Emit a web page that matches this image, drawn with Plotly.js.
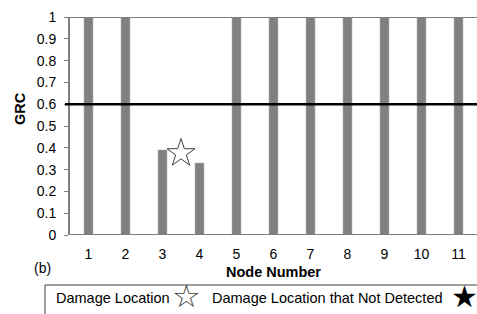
<!DOCTYPE html>
<html><head><meta charset="utf-8">
<script src="https://cdn.plot.ly/plotly-3.0.1.min.js"></script>
<style>html,body{margin:0;padding:0;background:#fff;}</style>
</head><body><div id="chart" style="width:477px;height:314px;"></div>
<script>
const nodes = [1,2,3,4,5,6,7,8,9,10,11];
const grc = [1,1,0.39,0.33,1,1,1,1,1,1,1];
const threshold = 0.6;
const damageX = [3.5];
const damageY = [0.375];
const tickLabels = ['0','0.1','0.2','0.3','0.4','0.5','0.6','0.7','0.8','0.9','1'];
const tickVals = [0,0.1,0.2,0.3,0.4,0.5,0.6,0.7,0.8,0.9,1];

const W=477, L=70, PW=407, T=17, PH=218;
const px = x => (x-L)/PW;
const py = y => (T+PH-y)/PH;
const font = 'Liberation Sans, Arial, sans-serif';

const data = [
  {type:'bar', x:nodes, y:grc, marker:{color:'#808080', line:{color:'#a0a0a0', width:0.5}}, width:0.24, hoverinfo:'skip'},
  {type:'scatter', mode:'markers', x:damageX, y:damageY, marker:{symbol:'star-open', size:21, color:'#404040', line:{width:1, color:'#404040'}}, hoverinfo:'skip'}
];

const layout = {
  width:477, height:314,
  margin:{l:L, r:0, t:T, b:314-T-PH, pad:0},
  paper_bgcolor:'#fff', plot_bgcolor:'#fff',
  showlegend:false,
  font:{family:font, size:14, color:'#000'},
  xaxis:{range:[0.5,11.5], tickvals:nodes, ticktext:nodes.map(String), showgrid:false, zeroline:false,
    showline:false, ticks:'', ticklabelstandoff:9, tickfont:{size:14, family:font},
    title:{text:'<b>Node Number</b>', font:{size:14.5, family:font}, standoff:5}},
  yaxis:{range:[0,1], tickvals:tickVals, ticktext:tickLabels, showgrid:false, zeroline:false,
    showline:true, linecolor:'#808080', linewidth:2, ticks:'outside', ticklen:4, tickcolor:'#808080', tickwidth:1,
    ticklabelstandoff:5, tickfont:{size:14, family:font}},
  shapes:[
    {type:'line', xref:'paper', yref:'y', x0:0, x1:1, y0:1, y1:1, line:{color:'#808080', width:2}},
    {type:'line', xref:'paper', yref:'y', x0:0, x1:1, y0:0, y1:0, line:{color:'#808080', width:2}},
    {type:'line', xref:'paper', yref:'y', x0:px(65), x1:1, y0:threshold, y1:threshold, line:{color:'#000', width:2.5}},
    {type:'rect', xref:'paper', yref:'paper', x0:px(45), x1:px(480), y0:py(285), y1:py(320), line:{color:'#404040', width:1}, fillcolor:'rgba(0,0,0,0)'}
  ],
  annotations:[
    {xref:'paper', yref:'paper', x:px(20), y:py(109), text:'<b>GRC</b>', textangle:-90, showarrow:false, xanchor:'center', yanchor:'middle', font:{size:14.5, family:font}},
    {xref:'paper', yref:'paper', x:px(32), y:py(268), text:'(b)', showarrow:false, xanchor:'left', yanchor:'middle', font:{size:14, family:font}},
    {xref:'paper', yref:'paper', x:px(54), y:py(298), text:'Damage Location', showarrow:false, xanchor:'left', yanchor:'middle', font:{size:14.5, family:font}},
    {xref:'paper', yref:'paper', x:px(186), y:py(296), text:'☆', showarrow:false, xanchor:'center', yanchor:'middle', font:{size:32, family:'DejaVu Sans', color:'#404040'}},
    {xref:'paper', yref:'paper', x:px(210), y:py(298), text:'Damage Location that Not Detected', showarrow:false, xanchor:'left', yanchor:'middle', font:{size:14.5, family:font}},
    {xref:'paper', yref:'paper', x:px(464), y:py(296), text:'★', showarrow:false, xanchor:'center', yanchor:'middle', font:{size:30, family:'DejaVu Sans', color:'#000'}}
  ]
};
Plotly.newPlot('chart', data, layout, {staticPlot:true, displayModeBar:false});
</script></body></html>
